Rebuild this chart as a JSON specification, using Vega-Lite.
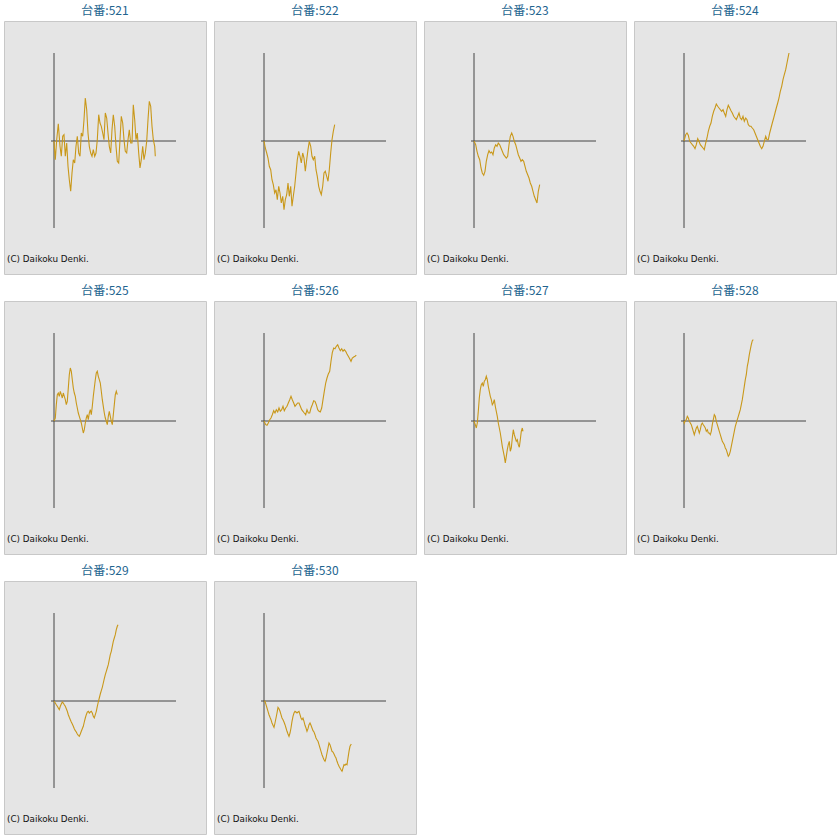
{
  "$schema": "https://vega.github.io/schema/vega-lite/v6.json",
  "padding": {"left": 3, "top": 4, "right": 0, "bottom": 0},
  "background": "#ffffff",
  "datasets": {
    "slump": [
      {"id": "台番:521", "g": 0, "v": 0}, {"id": "台番:521", "g": 1.3, "v": -18.7}, {"id": "台番:521", "g": 2.7, "v": 1.3}, {"id": "台番:521", "g": 4.3, "v": 17.3}, {"id": "台番:521", "g": 6, "v": -5.3}, {"id": "台番:521", "g": 7.3, "v": -15.3}, {"id": "台番:521", "g": 8.7, "v": 4.7}, {"id": "台番:521", "g": 10, "v": 6.3}, {"id": "台番:521", "g": 11.3, "v": -15.3}, {"id": "台番:521", "g": 12.7, "v": -2}, {"id": "台番:521", "g": 14, "v": -25.3}, {"id": "台番:521", "g": 15.3, "v": -38.7}, {"id": "台番:521", "g": 16.7, "v": -50.3}, {"id": "台番:521", "g": 18, "v": -32}, {"id": "台番:521", "g": 19.3, "v": -18.7}, {"id": "台番:521", "g": 20.7, "v": -22}, {"id": "台番:521", "g": 22, "v": -5.3}, {"id": "台番:521", "g": 23.3, "v": 4.7}, {"id": "台番:521", "g": 24.7, "v": -12}, {"id": "台番:521", "g": 26, "v": -15.3}, {"id": "台番:521", "g": 27.3, "v": 8}, {"id": "台番:521", "g": 28.7, "v": 4.7}, {"id": "台番:521", "g": 30, "v": 21.3}, {"id": "台番:521", "g": 31.3, "v": 43}, {"id": "台番:521", "g": 32.7, "v": 31.3}, {"id": "台番:521", "g": 34, "v": 8}, {"id": "台番:521", "g": 35.3, "v": -5.3}, {"id": "台番:521", "g": 36.7, "v": -12}, {"id": "台番:521", "g": 38, "v": -15.3}, {"id": "台番:521", "g": 39.3, "v": -8.7}, {"id": "台番:521", "g": 40.7, "v": -15.3}, {"id": "台番:521", "g": 42, "v": -12}, {"id": "台番:521", "g": 43.3, "v": 1.3}, {"id": "台番:521", "g": 44.7, "v": 26.3}, {"id": "台番:521", "g": 46, "v": 18}, {"id": "台番:521", "g": 47.3, "v": 14.7}, {"id": "台番:521", "g": 48.7, "v": 8}, {"id": "台番:521", "g": 50, "v": 1.3}, {"id": "台番:521", "g": 51.3, "v": 28}, {"id": "台番:521", "g": 52.7, "v": 23}, {"id": "台番:521", "g": 54, "v": 8}, {"id": "台番:521", "g": 55.3, "v": -5.3}, {"id": "台番:521", "g": 56.7, "v": -12}, {"id": "台番:521", "g": 58, "v": 11.3}, {"id": "台番:521", "g": 59.3, "v": 26.3}, {"id": "台番:521", "g": 60.7, "v": 14.7}, {"id": "台番:521", "g": 62, "v": -5.3}, {"id": "台番:521", "g": 63.3, "v": -20.3}, {"id": "台番:521", "g": 64.7, "v": -22}, {"id": "台番:521", "g": 66, "v": 1.3}, {"id": "台番:521", "g": 67.3, "v": 24.7}, {"id": "台番:521", "g": 68.7, "v": 18}, {"id": "台番:521", "g": 70, "v": 1.3}, {"id": "台番:521", "g": 71.3, "v": -10.3}, {"id": "台番:521", "g": 72.7, "v": -12}, {"id": "台番:521", "g": 74, "v": 1.3}, {"id": "台番:521", "g": 75.3, "v": 11.3}, {"id": "台番:521", "g": 76.7, "v": -2}, {"id": "台番:521", "g": 78, "v": -2}, {"id": "台番:521", "g": 79.3, "v": 36.3}, {"id": "台番:521", "g": 80.7, "v": 21.3}, {"id": "台番:521", "g": 82, "v": 1.3}, {"id": "台番:521", "g": 83.3, "v": 8}, {"id": "台番:521", "g": 84.7, "v": -12}, {"id": "台番:521", "g": 86, "v": -27}, {"id": "台番:521", "g": 87.3, "v": -18.7}, {"id": "台番:521", "g": 88.7, "v": -5.3}, {"id": "台番:521", "g": 90, "v": -18.7}, {"id": "台番:521", "g": 91.3, "v": -12}, {"id": "台番:521", "g": 92.7, "v": -0.3}, {"id": "台番:521", "g": 94, "v": 21.3}, {"id": "台番:521", "g": 95.3, "v": 39.7}, {"id": "台番:521", "g": 96.7, "v": 34.7}, {"id": "台番:521", "g": 98, "v": 14.7}, {"id": "台番:521", "g": 99.3, "v": 1.3}, {"id": "台番:521", "g": 100.7, "v": -5.3}, {"id": "台番:521", "g": 101.3, "v": -15.3},

      {"id": "台番:522", "g": 0, "v": 0}, {"id": "台番:522", "g": 1.3, "v": -7}, {"id": "台番:522", "g": 2.7, "v": -12}, {"id": "台番:522", "g": 4, "v": -17}, {"id": "台番:522", "g": 5.3, "v": -25.3}, {"id": "台番:522", "g": 6.7, "v": -28.7}, {"id": "台番:522", "g": 8, "v": -38.7}, {"id": "台番:522", "g": 9.3, "v": -43.7}, {"id": "台番:522", "g": 10.7, "v": -52}, {"id": "台番:522", "g": 12, "v": -48.7}, {"id": "台番:522", "g": 13.3, "v": -58.7}, {"id": "台番:522", "g": 14.7, "v": -45.3}, {"id": "台番:522", "g": 16, "v": -52}, {"id": "台番:522", "g": 17.3, "v": -62}, {"id": "台番:522", "g": 18.7, "v": -55.3}, {"id": "台番:522", "g": 20, "v": -68.7}, {"id": "台番:522", "g": 21.3, "v": -58.7}, {"id": "台番:522", "g": 22.7, "v": -53.7}, {"id": "台番:522", "g": 24, "v": -42}, {"id": "台番:522", "g": 25.3, "v": -55.3}, {"id": "台番:522", "g": 26.7, "v": -45.3}, {"id": "台番:522", "g": 28, "v": -65.3}, {"id": "台番:522", "g": 29.3, "v": -55.3}, {"id": "台番:522", "g": 30.7, "v": -45.3}, {"id": "台番:522", "g": 32, "v": -32}, {"id": "台番:522", "g": 33.3, "v": -18.7}, {"id": "台番:522", "g": 34.7, "v": -10.3}, {"id": "台番:522", "g": 36, "v": -15.3}, {"id": "台番:522", "g": 37.3, "v": -22}, {"id": "台番:522", "g": 38.7, "v": -12}, {"id": "台番:522", "g": 40, "v": -17}, {"id": "台番:522", "g": 41.3, "v": -30.3}, {"id": "台番:522", "g": 42.7, "v": -18.7}, {"id": "台番:522", "g": 44, "v": -8.7}, {"id": "台番:522", "g": 45.3, "v": -0.3}, {"id": "台番:522", "g": 46.7, "v": -5.3}, {"id": "台番:522", "g": 48, "v": -15.3}, {"id": "台番:522", "g": 49.3, "v": -18.7}, {"id": "台番:522", "g": 50.7, "v": -15.3}, {"id": "台番:522", "g": 52, "v": -28.7}, {"id": "台番:522", "g": 53.3, "v": -35.3}, {"id": "台番:522", "g": 54.7, "v": -45.3}, {"id": "台番:522", "g": 56, "v": -50.3}, {"id": "台番:522", "g": 57.3, "v": -53.7}, {"id": "台番:522", "g": 58.7, "v": -45.3}, {"id": "台番:522", "g": 60, "v": -32}, {"id": "台番:522", "g": 61.3, "v": -30.3}, {"id": "台番:522", "g": 62.7, "v": -35.3}, {"id": "台番:522", "g": 64, "v": -40.3}, {"id": "台番:522", "g": 65.3, "v": -28.7}, {"id": "台番:522", "g": 66.7, "v": -12}, {"id": "台番:522", "g": 68, "v": 1.3}, {"id": "台番:522", "g": 69.3, "v": 9.7}, {"id": "台番:522", "g": 70.7, "v": 16.3},

      {"id": "台番:523", "g": 0, "v": 0}, {"id": "台番:523", "g": 1.7, "v": -3.7}, {"id": "台番:523", "g": 3, "v": -10.3}, {"id": "台番:523", "g": 4.3, "v": -15.3}, {"id": "台番:523", "g": 5.7, "v": -18.7}, {"id": "台番:523", "g": 7, "v": -27}, {"id": "台番:523", "g": 8.3, "v": -32}, {"id": "台番:523", "g": 9.7, "v": -34.3}, {"id": "台番:523", "g": 11, "v": -30.3}, {"id": "台番:523", "g": 12.3, "v": -20.3}, {"id": "台番:523", "g": 13.7, "v": -13.7}, {"id": "台番:523", "g": 15, "v": -9.7}, {"id": "台番:523", "g": 16.3, "v": -12}, {"id": "台番:523", "g": 17.7, "v": -11}, {"id": "台番:523", "g": 19, "v": -13.7}, {"id": "台番:523", "g": 20.3, "v": -7}, {"id": "台番:523", "g": 21.7, "v": -3.7}, {"id": "台番:523", "g": 23, "v": -5.3}, {"id": "台番:523", "g": 24.3, "v": -2}, {"id": "台番:523", "g": 25.7, "v": -3.7}, {"id": "台番:523", "g": 27, "v": -7}, {"id": "台番:523", "g": 28.3, "v": -10.3}, {"id": "台番:523", "g": 29.7, "v": -13.7}, {"id": "台番:523", "g": 31, "v": -15.3}, {"id": "台番:523", "g": 32.3, "v": -17}, {"id": "台番:523", "g": 33.7, "v": -15.3}, {"id": "台番:523", "g": 35, "v": -3.7}, {"id": "台番:523", "g": 36.3, "v": 4.7}, {"id": "台番:523", "g": 37.7, "v": 8}, {"id": "台番:523", "g": 39, "v": 4.7}, {"id": "台番:523", "g": 40.3, "v": -0.3}, {"id": "台番:523", "g": 41.7, "v": -3.7}, {"id": "台番:523", "g": 43, "v": -8.7}, {"id": "台番:523", "g": 44.3, "v": -13.7}, {"id": "台番:523", "g": 45.7, "v": -17}, {"id": "台番:523", "g": 47, "v": -20.3}, {"id": "台番:523", "g": 48.3, "v": -18.7}, {"id": "台番:523", "g": 49.7, "v": -20.3}, {"id": "台番:523", "g": 51, "v": -25.3}, {"id": "台番:523", "g": 52.3, "v": -30.3}, {"id": "台番:523", "g": 53.7, "v": -33.7}, {"id": "台番:523", "g": 55, "v": -37}, {"id": "台番:523", "g": 56.3, "v": -42}, {"id": "台番:523", "g": 57.7, "v": -45.3}, {"id": "台番:523", "g": 59, "v": -50.3}, {"id": "台番:523", "g": 60.3, "v": -55.3}, {"id": "台番:523", "g": 61.7, "v": -58.7}, {"id": "台番:523", "g": 63, "v": -62}, {"id": "台番:523", "g": 64.3, "v": -50.3}, {"id": "台番:523", "g": 65.7, "v": -43.7},

      {"id": "台番:524", "g": 0, "v": 0}, {"id": "台番:524", "g": 1.7, "v": 6.3}, {"id": "台番:524", "g": 3, "v": 8}, {"id": "台番:524", "g": 4.3, "v": 5.7}, {"id": "台番:524", "g": 5.7, "v": -0.3}, {"id": "台番:524", "g": 7, "v": -2}, {"id": "台番:524", "g": 8.3, "v": -3.7}, {"id": "台番:524", "g": 9.7, "v": -5.3}, {"id": "台番:524", "g": 11, "v": -7.7}, {"id": "台番:524", "g": 12.3, "v": -3.7}, {"id": "台番:524", "g": 13.7, "v": 2.3}, {"id": "台番:524", "g": 15, "v": -0.3}, {"id": "台番:524", "g": 16.3, "v": -3.7}, {"id": "台番:524", "g": 17.7, "v": -5.3}, {"id": "台番:524", "g": 19, "v": -7}, {"id": "台番:524", "g": 20.3, "v": -8.7}, {"id": "台番:524", "g": 21.7, "v": -2}, {"id": "台番:524", "g": 23, "v": 3}, {"id": "台番:524", "g": 24.3, "v": 9.7}, {"id": "台番:524", "g": 25.7, "v": 14.7}, {"id": "台番:524", "g": 27, "v": 18}, {"id": "台番:524", "g": 28.3, "v": 24.7}, {"id": "台番:524", "g": 29.7, "v": 29.7}, {"id": "台番:524", "g": 31, "v": 33}, {"id": "台番:524", "g": 32.3, "v": 37}, {"id": "台番:524", "g": 33.7, "v": 34.7}, {"id": "台番:524", "g": 35, "v": 33}, {"id": "台番:524", "g": 36.3, "v": 31.3}, {"id": "台番:524", "g": 37.7, "v": 29.7}, {"id": "台番:524", "g": 39, "v": 31.3}, {"id": "台番:524", "g": 40.3, "v": 28}, {"id": "台番:524", "g": 41.7, "v": 24.7}, {"id": "台番:524", "g": 43, "v": 31.3}, {"id": "台番:524", "g": 44.3, "v": 35.7}, {"id": "台番:524", "g": 45.7, "v": 33}, {"id": "台番:524", "g": 47, "v": 30.3}, {"id": "台番:524", "g": 48.3, "v": 28}, {"id": "台番:524", "g": 49.7, "v": 24.7}, {"id": "台番:524", "g": 51, "v": 23}, {"id": "台番:524", "g": 52.3, "v": 21.3}, {"id": "台番:524", "g": 53.7, "v": 24.7}, {"id": "台番:524", "g": 55, "v": 28}, {"id": "台番:524", "g": 56.3, "v": 23}, {"id": "台番:524", "g": 57.7, "v": 21.3}, {"id": "台番:524", "g": 59, "v": 24.7}, {"id": "台番:524", "g": 60.3, "v": 19.7}, {"id": "台番:524", "g": 61.7, "v": 23}, {"id": "台番:524", "g": 63, "v": 21.3}, {"id": "台番:524", "g": 64.3, "v": 16.3}, {"id": "台番:524", "g": 65.7, "v": 14.7}, {"id": "台番:524", "g": 67, "v": 14.7}, {"id": "台番:524", "g": 68.3, "v": 13}, {"id": "台番:524", "g": 69.7, "v": 11.3}, {"id": "台番:524", "g": 71, "v": 8}, {"id": "台番:524", "g": 72.3, "v": 4.7}, {"id": "台番:524", "g": 73.7, "v": 1.3}, {"id": "台番:524", "g": 75, "v": -2}, {"id": "台番:524", "g": 76.3, "v": -5.3}, {"id": "台番:524", "g": 77.7, "v": -7.7}, {"id": "台番:524", "g": 79, "v": -5.3}, {"id": "台番:524", "g": 80.3, "v": -0.3}, {"id": "台番:524", "g": 81.7, "v": 4.7}, {"id": "台番:524", "g": 83, "v": 1.3}, {"id": "台番:524", "g": 84.3, "v": 1.3}, {"id": "台番:524", "g": 85.7, "v": 8}, {"id": "台番:524", "g": 87, "v": 13}, {"id": "台番:524", "g": 88.3, "v": 18}, {"id": "台番:524", "g": 89.7, "v": 23}, {"id": "台番:524", "g": 91, "v": 28}, {"id": "台番:524", "g": 92.3, "v": 33}, {"id": "台番:524", "g": 93.7, "v": 38}, {"id": "台番:524", "g": 95, "v": 43}, {"id": "台番:524", "g": 96.3, "v": 49.7}, {"id": "台番:524", "g": 97.7, "v": 54.7}, {"id": "台番:524", "g": 99, "v": 61.3}, {"id": "台番:524", "g": 100.3, "v": 66.3}, {"id": "台番:524", "g": 101.7, "v": 71.3}, {"id": "台番:524", "g": 103, "v": 78}, {"id": "台番:524", "g": 104.3, "v": 84.7}, {"id": "台番:524", "g": 105, "v": 88},

      {"id": "台番:525", "g": 0, "v": 0}, {"id": "台番:525", "g": 1.3, "v": 3}, {"id": "台番:525", "g": 2.3, "v": 16.3}, {"id": "台番:525", "g": 3.3, "v": 26.3}, {"id": "台番:525", "g": 4.3, "v": 28}, {"id": "台番:525", "g": 5.3, "v": 24.7}, {"id": "台番:525", "g": 6.3, "v": 29.7}, {"id": "台番:525", "g": 7.3, "v": 26.3}, {"id": "台番:525", "g": 8.3, "v": 23}, {"id": "台番:525", "g": 9.3, "v": 28}, {"id": "台番:525", "g": 10.3, "v": 24.7}, {"id": "台番:525", "g": 11.3, "v": 21.3}, {"id": "台番:525", "g": 12.3, "v": 16.3}, {"id": "台番:525", "g": 13.3, "v": 19.7}, {"id": "台番:525", "g": 14.3, "v": 33}, {"id": "台番:525", "g": 15.3, "v": 46.3}, {"id": "台番:525", "g": 16.3, "v": 53}, {"id": "台番:525", "g": 17.3, "v": 49.7}, {"id": "台番:525", "g": 18.3, "v": 41.3}, {"id": "台番:525", "g": 19.3, "v": 33}, {"id": "台番:525", "g": 20.3, "v": 28}, {"id": "台番:525", "g": 21.3, "v": 24.7}, {"id": "台番:525", "g": 22.3, "v": 18}, {"id": "台番:525", "g": 23.3, "v": 13}, {"id": "台番:525", "g": 24.3, "v": 8}, {"id": "台番:525", "g": 25.3, "v": 4.7}, {"id": "台番:525", "g": 26.3, "v": 1.3}, {"id": "台番:525", "g": 27.3, "v": -2}, {"id": "台番:525", "g": 28.3, "v": -7}, {"id": "台番:525", "g": 29.3, "v": -12}, {"id": "台番:525", "g": 30.3, "v": -8.7}, {"id": "台番:525", "g": 31.3, "v": -2}, {"id": "台番:525", "g": 32.3, "v": 3}, {"id": "台番:525", "g": 33.3, "v": 6.3}, {"id": "台番:525", "g": 34.3, "v": 1.3}, {"id": "台番:525", "g": 35.3, "v": 8}, {"id": "台番:525", "g": 36.3, "v": 11.3}, {"id": "台番:525", "g": 37.3, "v": 6.3}, {"id": "台番:525", "g": 38.3, "v": 14.7}, {"id": "台番:525", "g": 39.3, "v": 24.7}, {"id": "台番:525", "g": 40.3, "v": 33}, {"id": "台番:525", "g": 41.3, "v": 41.3}, {"id": "台番:525", "g": 42.3, "v": 48}, {"id": "台番:525", "g": 43.3, "v": 49.7}, {"id": "台番:525", "g": 44.3, "v": 44.7}, {"id": "台番:525", "g": 45.3, "v": 41.3}, {"id": "台番:525", "g": 46.3, "v": 38}, {"id": "台番:525", "g": 47.3, "v": 29.7}, {"id": "台番:525", "g": 48.3, "v": 21.3}, {"id": "台番:525", "g": 49.3, "v": 14.7}, {"id": "台番:525", "g": 50.3, "v": 8}, {"id": "台番:525", "g": 51.3, "v": 3}, {"id": "台番:525", "g": 52.3, "v": -0.3}, {"id": "台番:525", "g": 53.3, "v": -3.7}, {"id": "台番:525", "g": 54.3, "v": 4.7}, {"id": "台番:525", "g": 55.3, "v": 9.7}, {"id": "台番:525", "g": 56.3, "v": 4.7}, {"id": "台番:525", "g": 57.3, "v": -0.3}, {"id": "台番:525", "g": 58.3, "v": -3.7}, {"id": "台番:525", "g": 59.3, "v": 6.3}, {"id": "台番:525", "g": 60.3, "v": 16.3}, {"id": "台番:525", "g": 61.3, "v": 26.3}, {"id": "台番:525", "g": 62.3, "v": 29.7}, {"id": "台番:525", "g": 63.3, "v": 26.3},

      {"id": "台番:526", "g": 0, "v": 0}, {"id": "台番:526", "g": 1.7, "v": -3.7}, {"id": "台番:526", "g": 3, "v": -4.3}, {"id": "台番:526", "g": 4.3, "v": -2}, {"id": "台番:526", "g": 5.7, "v": 1.3}, {"id": "台番:526", "g": 7, "v": 3}, {"id": "台番:526", "g": 8.3, "v": 6.3}, {"id": "台番:526", "g": 9.7, "v": 10.3}, {"id": "台番:526", "g": 11, "v": 8}, {"id": "台番:526", "g": 12.3, "v": 11.3}, {"id": "台番:526", "g": 13.7, "v": 9}, {"id": "台番:526", "g": 15, "v": 13}, {"id": "台番:526", "g": 16.3, "v": 9.7}, {"id": "台番:526", "g": 17.7, "v": 11.3}, {"id": "台番:526", "g": 19, "v": 14.7}, {"id": "台番:526", "g": 20.3, "v": 10.3}, {"id": "台番:526", "g": 21.7, "v": 13}, {"id": "台番:526", "g": 23, "v": 14.7}, {"id": "台番:526", "g": 24.3, "v": 18}, {"id": "台番:526", "g": 25.7, "v": 21.3}, {"id": "台番:526", "g": 27, "v": 24.7}, {"id": "台番:526", "g": 28.3, "v": 21.3}, {"id": "台番:526", "g": 29.7, "v": 18}, {"id": "台番:526", "g": 31, "v": 14.7}, {"id": "台番:526", "g": 32.3, "v": 16.3}, {"id": "台番:526", "g": 33.7, "v": 18}, {"id": "台番:526", "g": 35, "v": 18}, {"id": "台番:526", "g": 36.3, "v": 14.7}, {"id": "台番:526", "g": 37.7, "v": 11.3}, {"id": "台番:526", "g": 39, "v": 9.7}, {"id": "台番:526", "g": 40.3, "v": 8}, {"id": "台番:526", "g": 41.7, "v": 6.3}, {"id": "台番:526", "g": 43, "v": 11.3}, {"id": "台番:526", "g": 44.3, "v": 8}, {"id": "台番:526", "g": 45.7, "v": 8}, {"id": "台番:526", "g": 47, "v": 13}, {"id": "台番:526", "g": 48.3, "v": 16.3}, {"id": "台番:526", "g": 49.7, "v": 20.3}, {"id": "台番:526", "g": 51, "v": 19.7}, {"id": "台番:526", "g": 52.3, "v": 16.3}, {"id": "台番:526", "g": 53.7, "v": 11.3}, {"id": "台番:526", "g": 55, "v": 9.7}, {"id": "台番:526", "g": 56.3, "v": 9}, {"id": "台番:526", "g": 57.7, "v": 13}, {"id": "台番:526", "g": 59, "v": 21.3}, {"id": "台番:526", "g": 60.3, "v": 29.7}, {"id": "台番:526", "g": 61.7, "v": 38}, {"id": "台番:526", "g": 63, "v": 43}, {"id": "台番:526", "g": 64.3, "v": 47}, {"id": "台番:526", "g": 65.7, "v": 49.7}, {"id": "台番:526", "g": 67, "v": 59.7}, {"id": "台番:526", "g": 68.3, "v": 68.3}, {"id": "台番:526", "g": 69.7, "v": 73}, {"id": "台番:526", "g": 71, "v": 72.3}, {"id": "台番:526", "g": 72.3, "v": 74.7}, {"id": "台番:526", "g": 73.7, "v": 76.3}, {"id": "台番:526", "g": 75, "v": 73}, {"id": "台番:526", "g": 76.3, "v": 70.3}, {"id": "台番:526", "g": 77.7, "v": 72.3}, {"id": "台番:526", "g": 79, "v": 69.7}, {"id": "台番:526", "g": 80.3, "v": 71.3}, {"id": "台番:526", "g": 81.7, "v": 69.7}, {"id": "台番:526", "g": 83, "v": 67}, {"id": "台番:526", "g": 84.3, "v": 64.7}, {"id": "台番:526", "g": 85.7, "v": 62.3}, {"id": "台番:526", "g": 87, "v": 59.7}, {"id": "台番:526", "g": 88.3, "v": 63}, {"id": "台番:526", "g": 89.7, "v": 64}, {"id": "台番:526", "g": 91, "v": 64.7}, {"id": "台番:526", "g": 92.3, "v": 65.7},

      {"id": "台番:527", "g": 0, "v": 0}, {"id": "台番:527", "g": 1.3, "v": -3.7}, {"id": "台番:527", "g": 2.3, "v": -7}, {"id": "台番:527", "g": 3.3, "v": -2}, {"id": "台番:527", "g": 4.3, "v": 9.7}, {"id": "台番:527", "g": 5.3, "v": 23}, {"id": "台番:527", "g": 6.3, "v": 31.3}, {"id": "台番:527", "g": 7.3, "v": 36.3}, {"id": "台番:527", "g": 8.3, "v": 38}, {"id": "台番:527", "g": 9.3, "v": 34.7}, {"id": "台番:527", "g": 10.3, "v": 39.7}, {"id": "台番:527", "g": 11.3, "v": 41.3}, {"id": "台番:527", "g": 12.3, "v": 44.7}, {"id": "台番:527", "g": 13.3, "v": 41.3}, {"id": "台番:527", "g": 14.3, "v": 34.7}, {"id": "台番:527", "g": 15.3, "v": 29.7}, {"id": "台番:527", "g": 16.3, "v": 24.7}, {"id": "台番:527", "g": 17.3, "v": 21.3}, {"id": "台番:527", "g": 18.3, "v": 16.3}, {"id": "台番:527", "g": 19.3, "v": 18}, {"id": "台番:527", "g": 20.3, "v": 21.3}, {"id": "台番:527", "g": 21.3, "v": 14.7}, {"id": "台番:527", "g": 22.3, "v": 9.7}, {"id": "台番:527", "g": 23.3, "v": 4.7}, {"id": "台番:527", "g": 24.3, "v": -2}, {"id": "台番:527", "g": 25.3, "v": -7}, {"id": "台番:527", "g": 26.3, "v": -12}, {"id": "台番:527", "g": 27.3, "v": -18.7}, {"id": "台番:527", "g": 28.3, "v": -25.3}, {"id": "台番:527", "g": 29.3, "v": -30.3}, {"id": "台番:527", "g": 30.3, "v": -35.3}, {"id": "台番:527", "g": 31.3, "v": -42}, {"id": "台番:527", "g": 32.3, "v": -35.3}, {"id": "台番:527", "g": 33.3, "v": -28.7}, {"id": "台番:527", "g": 34.3, "v": -23.7}, {"id": "台番:527", "g": 35.3, "v": -20.3}, {"id": "台番:527", "g": 36.3, "v": -30.3}, {"id": "台番:527", "g": 37.3, "v": -27}, {"id": "台番:527", "g": 38.3, "v": -17}, {"id": "台番:527", "g": 39.3, "v": -8.7}, {"id": "台番:527", "g": 40.3, "v": -13.7}, {"id": "台番:527", "g": 41.3, "v": -17}, {"id": "台番:527", "g": 42.3, "v": -20.3}, {"id": "台番:527", "g": 43.3, "v": -18.7}, {"id": "台番:527", "g": 44.3, "v": -23.7}, {"id": "台番:527", "g": 45.3, "v": -26.3}, {"id": "台番:527", "g": 46.3, "v": -18.7}, {"id": "台番:527", "g": 47.3, "v": -10.3}, {"id": "台番:527", "g": 48.3, "v": -7}, {"id": "台番:527", "g": 49, "v": -10.3},

      {"id": "台番:528", "g": 0, "v": 0}, {"id": "台番:528", "g": 0.3, "v": -2}, {"id": "台番:528", "g": 1.3, "v": 0.3}, {"id": "台番:528", "g": 2.3, "v": 1.3}, {"id": "台番:528", "g": 3.3, "v": 4.7}, {"id": "台番:528", "g": 4.3, "v": 3}, {"id": "台番:528", "g": 5.3, "v": -0.3}, {"id": "台番:528", "g": 6.3, "v": -2}, {"id": "台番:528", "g": 7.3, "v": -3.7}, {"id": "台番:528", "g": 8.3, "v": -7}, {"id": "台番:528", "g": 9.3, "v": -10.3}, {"id": "台番:528", "g": 10.3, "v": -13.7}, {"id": "台番:528", "g": 11.3, "v": -10.3}, {"id": "台番:528", "g": 12.3, "v": -7}, {"id": "台番:528", "g": 13.3, "v": -5.3}, {"id": "台番:528", "g": 14.3, "v": -8.7}, {"id": "台番:528", "g": 15.3, "v": -12}, {"id": "台番:528", "g": 16.3, "v": -8.7}, {"id": "台番:528", "g": 17.3, "v": -3.7}, {"id": "台番:528", "g": 18.3, "v": -2}, {"id": "台番:528", "g": 19.3, "v": -3.7}, {"id": "台番:528", "g": 20.3, "v": -5.3}, {"id": "台番:528", "g": 21.3, "v": -7}, {"id": "台番:528", "g": 22.3, "v": -10.3}, {"id": "台番:528", "g": 23.3, "v": -8.7}, {"id": "台番:528", "g": 24.3, "v": -12}, {"id": "台番:528", "g": 25.3, "v": -12}, {"id": "台番:528", "g": 26.3, "v": -13.7}, {"id": "台番:528", "g": 27.3, "v": -10.3}, {"id": "台番:528", "g": 28.3, "v": -3.7}, {"id": "台番:528", "g": 29.3, "v": 1.3}, {"id": "台番:528", "g": 30.3, "v": 6.3}, {"id": "台番:528", "g": 31.3, "v": 4.7}, {"id": "台番:528", "g": 32.3, "v": -0.3}, {"id": "台番:528", "g": 33.3, "v": -3.7}, {"id": "台番:528", "g": 34.3, "v": -7}, {"id": "台番:528", "g": 35.3, "v": -10.3}, {"id": "台番:528", "g": 36.3, "v": -13.7}, {"id": "台番:528", "g": 37.3, "v": -17}, {"id": "台番:528", "g": 38.3, "v": -20.3}, {"id": "台番:528", "g": 39.3, "v": -22}, {"id": "台番:528", "g": 40.3, "v": -23.7}, {"id": "台番:528", "g": 41.3, "v": -27}, {"id": "台番:528", "g": 42.3, "v": -28.7}, {"id": "台番:528", "g": 43.3, "v": -32}, {"id": "台番:528", "g": 44.3, "v": -35.3}, {"id": "台番:528", "g": 45.3, "v": -33.7}, {"id": "台番:528", "g": 46.3, "v": -30.3}, {"id": "台番:528", "g": 47.3, "v": -25.3}, {"id": "台番:528", "g": 48.3, "v": -20.3}, {"id": "台番:528", "g": 49.3, "v": -15.3}, {"id": "台番:528", "g": 50.3, "v": -10.3}, {"id": "台番:528", "g": 51.3, "v": -5.3}, {"id": "台番:528", "g": 52.3, "v": -2}, {"id": "台番:528", "g": 53.3, "v": 1.3}, {"id": "台番:528", "g": 54.3, "v": 4.7}, {"id": "台番:528", "g": 55.3, "v": 8}, {"id": "台番:528", "g": 56.3, "v": 11.3}, {"id": "台番:528", "g": 57.3, "v": 16.3}, {"id": "台番:528", "g": 58.3, "v": 21.3}, {"id": "台番:528", "g": 59.3, "v": 28}, {"id": "台番:528", "g": 60.3, "v": 34.7}, {"id": "台番:528", "g": 61.3, "v": 41.3}, {"id": "台番:528", "g": 62.3, "v": 46.3}, {"id": "台番:528", "g": 63.3, "v": 54.7}, {"id": "台番:528", "g": 64.3, "v": 59.7}, {"id": "台番:528", "g": 65.3, "v": 66.3}, {"id": "台番:528", "g": 66.3, "v": 71.3}, {"id": "台番:528", "g": 67.3, "v": 76.3}, {"id": "台番:528", "g": 68.3, "v": 80.3}, {"id": "台番:528", "g": 69.3, "v": 81.3},

      {"id": "台番:529", "g": 0, "v": 0}, {"id": "台番:529", "g": 1.3, "v": -2}, {"id": "台番:529", "g": 2.3, "v": -3.7}, {"id": "台番:529", "g": 3.3, "v": -5.3}, {"id": "台番:529", "g": 4.3, "v": -7}, {"id": "台番:529", "g": 5.3, "v": -8.7}, {"id": "台番:529", "g": 6.3, "v": -5.3}, {"id": "台番:529", "g": 7.3, "v": -3}, {"id": "台番:529", "g": 8.3, "v": -1}, {"id": "台番:529", "g": 9.3, "v": -2}, {"id": "台番:529", "g": 10.3, "v": -3.7}, {"id": "台番:529", "g": 11.3, "v": -5.3}, {"id": "台番:529", "g": 12.3, "v": -7.7}, {"id": "台番:529", "g": 13.3, "v": -10.3}, {"id": "台番:529", "g": 14.3, "v": -13.7}, {"id": "台番:529", "g": 15.3, "v": -16.3}, {"id": "台番:529", "g": 16.3, "v": -18.7}, {"id": "台番:529", "g": 17.3, "v": -21}, {"id": "台番:529", "g": 18.3, "v": -23}, {"id": "台番:529", "g": 19.3, "v": -25.3}, {"id": "台番:529", "g": 20.3, "v": -27.7}, {"id": "台番:529", "g": 21.3, "v": -29.7}, {"id": "台番:529", "g": 22.3, "v": -31}, {"id": "台番:529", "g": 23.3, "v": -33}, {"id": "台番:529", "g": 24.3, "v": -34.3}, {"id": "台番:529", "g": 25.3, "v": -35.3}, {"id": "台番:529", "g": 26.3, "v": -33}, {"id": "台番:529", "g": 27.3, "v": -30.3}, {"id": "台番:529", "g": 28.3, "v": -27.7}, {"id": "台番:529", "g": 29.3, "v": -25.3}, {"id": "台番:529", "g": 30.3, "v": -21}, {"id": "台番:529", "g": 31.3, "v": -17}, {"id": "台番:529", "g": 32.3, "v": -13.7}, {"id": "台番:529", "g": 33.3, "v": -11}, {"id": "台番:529", "g": 34.3, "v": -10.3}, {"id": "台番:529", "g": 35.3, "v": -12}, {"id": "台番:529", "g": 36.3, "v": -11}, {"id": "台番:529", "g": 37.3, "v": -10.3}, {"id": "台番:529", "g": 38.3, "v": -12}, {"id": "台番:529", "g": 39.3, "v": -15.3}, {"id": "台番:529", "g": 40.3, "v": -17}, {"id": "台番:529", "g": 41.3, "v": -13.7}, {"id": "台番:529", "g": 42.3, "v": -10.3}, {"id": "台番:529", "g": 43.3, "v": -5.3}, {"id": "台番:529", "g": 44.3, "v": -1}, {"id": "台番:529", "g": 45.3, "v": 3}, {"id": "台番:529", "g": 46.3, "v": 7}, {"id": "台番:529", "g": 47.3, "v": 10.3}, {"id": "台番:529", "g": 48.3, "v": 13.7}, {"id": "台番:529", "g": 49.3, "v": 18}, {"id": "台番:529", "g": 50.3, "v": 22.3}, {"id": "台番:529", "g": 51.3, "v": 26.3}, {"id": "台番:529", "g": 52.3, "v": 29.7}, {"id": "台番:529", "g": 53.3, "v": 33}, {"id": "台番:529", "g": 54.3, "v": 36.3}, {"id": "台番:529", "g": 55.3, "v": 41.3}, {"id": "台番:529", "g": 56.3, "v": 46.3}, {"id": "台番:529", "g": 57.3, "v": 49.7}, {"id": "台番:529", "g": 58.3, "v": 54.7}, {"id": "台番:529", "g": 59.3, "v": 59.7}, {"id": "台番:529", "g": 60.3, "v": 63}, {"id": "台番:529", "g": 61.3, "v": 66.3}, {"id": "台番:529", "g": 62.3, "v": 71.3}, {"id": "台番:529", "g": 63.3, "v": 74.7}, {"id": "台番:529", "g": 64, "v": 76.3},

      {"id": "台番:530", "g": 0, "v": 0}, {"id": "台番:530", "g": 1, "v": -0.3}, {"id": "台番:530", "g": 2, "v": -3.7}, {"id": "台番:530", "g": 3, "v": -7}, {"id": "台番:530", "g": 4, "v": -10.3}, {"id": "台番:530", "g": 5, "v": -13.7}, {"id": "台番:530", "g": 6, "v": -16.3}, {"id": "台番:530", "g": 7, "v": -18.7}, {"id": "台番:530", "g": 8, "v": -22}, {"id": "台番:530", "g": 9, "v": -24.3}, {"id": "台番:530", "g": 10, "v": -26.3}, {"id": "台番:530", "g": 11, "v": -22}, {"id": "台番:530", "g": 12, "v": -17}, {"id": "台番:530", "g": 13, "v": -12}, {"id": "台番:530", "g": 14, "v": -6.3}, {"id": "台番:530", "g": 15, "v": -7.7}, {"id": "台番:530", "g": 16, "v": -10.3}, {"id": "台番:530", "g": 17, "v": -13.7}, {"id": "台番:530", "g": 18, "v": -17}, {"id": "台番:530", "g": 19, "v": -18.7}, {"id": "台番:530", "g": 20, "v": -21}, {"id": "台番:530", "g": 21, "v": -23.7}, {"id": "台番:530", "g": 22, "v": -27}, {"id": "台番:530", "g": 23, "v": -30.3}, {"id": "台番:530", "g": 24, "v": -33}, {"id": "台番:530", "g": 25, "v": -35.3}, {"id": "台番:530", "g": 26, "v": -32}, {"id": "台番:530", "g": 27, "v": -27}, {"id": "台番:530", "g": 28, "v": -20.3}, {"id": "台番:530", "g": 29, "v": -15.3}, {"id": "台番:530", "g": 30, "v": -12}, {"id": "台番:530", "g": 31, "v": -10.3}, {"id": "台番:530", "g": 32, "v": -11}, {"id": "台番:530", "g": 33, "v": -12}, {"id": "台番:530", "g": 34, "v": -11}, {"id": "台番:530", "g": 35, "v": -10.3}, {"id": "台番:530", "g": 36, "v": -13.7}, {"id": "台番:530", "g": 37, "v": -17}, {"id": "台番:530", "g": 38, "v": -18.7}, {"id": "台番:530", "g": 39, "v": -17}, {"id": "台番:530", "g": 40, "v": -20.3}, {"id": "台番:530", "g": 41, "v": -24.3}, {"id": "台番:530", "g": 42, "v": -27}, {"id": "台番:530", "g": 43, "v": -30.3}, {"id": "台番:530", "g": 44, "v": -27.7}, {"id": "台番:530", "g": 45, "v": -23.7}, {"id": "台番:530", "g": 46, "v": -22}, {"id": "台番:530", "g": 47, "v": -24.3}, {"id": "台番:530", "g": 48, "v": -27}, {"id": "台番:530", "g": 49, "v": -29.7}, {"id": "台番:530", "g": 50, "v": -31}, {"id": "台番:530", "g": 51, "v": -33.7}, {"id": "台番:530", "g": 52, "v": -37}, {"id": "台番:530", "g": 53, "v": -38.7}, {"id": "台番:530", "g": 54, "v": -40.3}, {"id": "台番:530", "g": 55, "v": -43.7}, {"id": "台番:530", "g": 56, "v": -47}, {"id": "台番:530", "g": 57, "v": -50.3}, {"id": "台番:530", "g": 58, "v": -53.7}, {"id": "台番:530", "g": 59, "v": -56.3}, {"id": "台番:530", "g": 60, "v": -58.7}, {"id": "台番:530", "g": 61, "v": -60.3}, {"id": "台番:530", "g": 62, "v": -57}, {"id": "台番:530", "g": 63, "v": -52}, {"id": "台番:530", "g": 64, "v": -47}, {"id": "台番:530", "g": 65, "v": -42}, {"id": "台番:530", "g": 66, "v": -43.7}, {"id": "台番:530", "g": 67, "v": -47}, {"id": "台番:530", "g": 68, "v": -50.3}, {"id": "台番:530", "g": 69, "v": -51}, {"id": "台番:530", "g": 70, "v": -53}, {"id": "台番:530", "g": 71, "v": -55.3}, {"id": "台番:530", "g": 72, "v": -57}, {"id": "台番:530", "g": 73, "v": -60.3}, {"id": "台番:530", "g": 74, "v": -63}, {"id": "台番:530", "g": 75, "v": -65.3}, {"id": "台番:530", "g": 76, "v": -67}, {"id": "台番:530", "g": 77, "v": -68.7}, {"id": "台番:530", "g": 78, "v": -70.3}, {"id": "台番:530", "g": 79, "v": -67}, {"id": "台番:530", "g": 80, "v": -63.7}, {"id": "台番:530", "g": 81, "v": -64.3}, {"id": "台番:530", "g": 82, "v": -63}, {"id": "台番:530", "g": 83, "v": -63.7}, {"id": "台番:530", "g": 84, "v": -57}, {"id": "台番:530", "g": 85, "v": -50.3}, {"id": "台番:530", "g": 86, "v": -45.3}, {"id": "台番:530", "g": 87.3, "v": -43}
    ]
  },
  "data": {"name": "slump"},
  "facet": {
    "field": "id",
    "type": "nominal",
    "title": null,
    "header": {
      "labelFont": "Noto Sans CJK JP",
      "labelFontSize": 12,
      "labelColor": "#22648f",
      "labelPadding": 3
    }
  },
  "columns": 4,
  "spacing": {"row": 9, "column": 6},
  "spec": {
    "width": 202,
    "height": 253,
    "layer": [
      {
        "transform": [{"filter": "datum.g == 0"}],
        "mark": {"type": "rule", "color": "#444444", "strokeWidth": 1},
        "encoding": {
          "x": {"datum": 0, "type": "quantitative", "scale": {"domain": [-50, 152], "nice": false, "zero": false}, "axis": null},
          "y": {"datum": -87, "type": "quantitative", "scale": {"domain": [-133, 120], "nice": false, "zero": false}, "axis": null},
          "y2": {"datum": 88}
        }
      },
      {
        "transform": [{"filter": "datum.g == 0"}],
        "mark": {"type": "rule", "color": "#444444", "strokeWidth": 1},
        "encoding": {
          "x": {"datum": -3, "type": "quantitative", "scale": {"domain": [-50, 152], "nice": false, "zero": false}, "axis": null},
          "x2": {"datum": 122},
          "y": {"datum": 0, "type": "quantitative", "scale": {"domain": [-133, 120], "nice": false, "zero": false}, "axis": null}
        }
      },
      {
        "mark": {"type": "line", "color": "#c9981a", "strokeWidth": 1.1},
        "encoding": {
          "x": {"field": "g", "type": "quantitative", "scale": {"domain": [-50, 152], "nice": false, "zero": false}, "axis": null},
          "y": {"field": "v", "type": "quantitative", "scale": {"domain": [-133, 120], "nice": false, "zero": false}, "axis": null}
        }
      },
      {
        "transform": [{"filter": "datum.g == 0"}],
        "mark": {"type": "text", "text": "(C) Daikoku Denki.", "align": "left", "baseline": "middle", "font": "DejaVu Sans", "fontSize": 8.8, "color": "#111111"},
        "encoding": {
          "x": {"datum": -47, "type": "quantitative", "scale": {"domain": [-50, 152], "nice": false, "zero": false}, "axis": null},
          "y": {"datum": -118, "type": "quantitative", "scale": {"domain": [-133, 120], "nice": false, "zero": false}, "axis": null}
        }
      }
    ]
  },
  "config": {
    "view": {"fill": "#e5e5e5", "stroke": "#c8c8c8"}
  }
}
